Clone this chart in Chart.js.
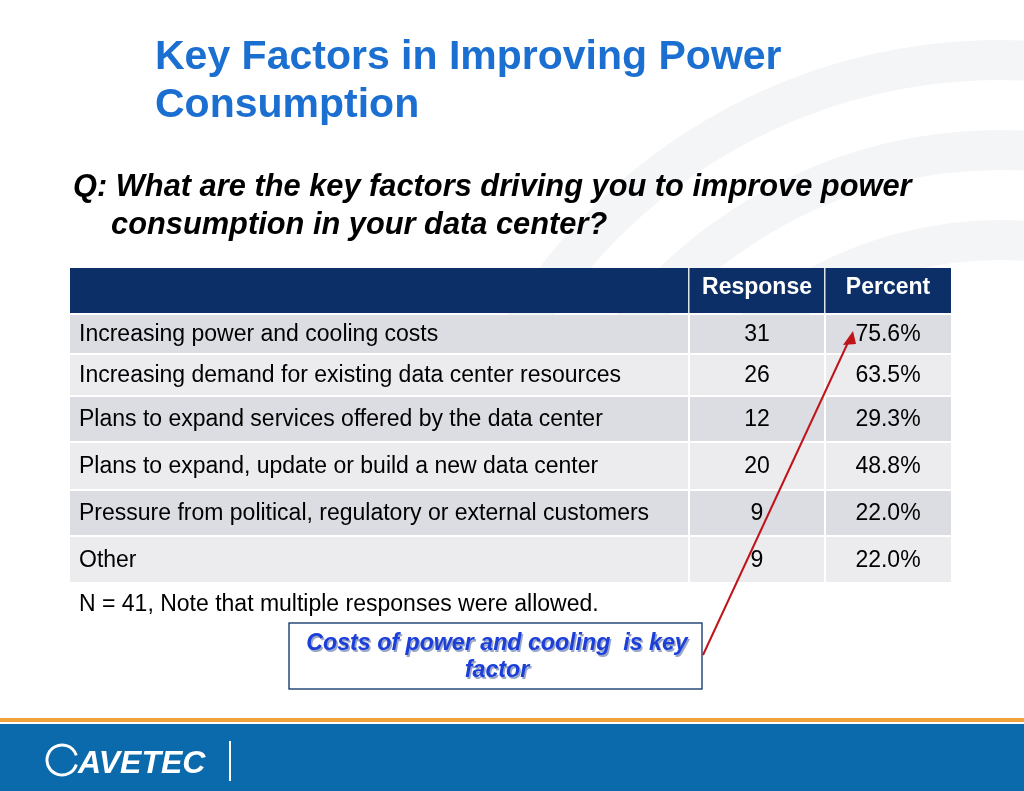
<!DOCTYPE html>
<html><head><meta charset="utf-8">
<script src="https://cdn.jsdelivr.net/npm/chart.js@4/dist/chart.umd.min.js"></script>
<style>html,body{margin:0;padding:0;background:#fff;overflow:hidden}#w{width:1024px;height:791px}</style>
</head><body><div id="w"><canvas id="c" width="1024" height="791"></canvas></div>
<script>
const factors = ["Increasing power and cooling costs","Increasing demand for existing data center resources","Plans to expand services offered by the data center","Plans to expand, update or build a new data center","Pressure from political, regulatory or external customers","Other"];
const responses = [31,26,12,20,9,9];
const percents = [75.6,63.5,29.3,48.8,22.0,22.0];
const headers = ["","Response","Percent"];

const rowTops=[315,355,397,443,491,537], rowBots=[353,395,441,489,535,582];
const colX=[70,689,825,951];
const F='"Liberation Sans", Arial, sans-serif';

const tablePlugin={id:'tbl',afterDraw(ch){
 const c=ch.ctx,xs=ch.scales.x,ys=ch.scales.y;
 const X=v=>xs.getPixelForValue(v),Y=v=>ys.getPixelForValue(v);
 c.save();
 c.strokeStyle='rgba(230,232,238,0.45)';c.lineWidth=40;
 for(const r of [380,470,560]){c.beginPath();c.arc(X(1000),Y(620),r,Math.PI*1.08,Math.PI*1.6);c.stroke();}
 c.fillStyle='#1b6fd1';c.font='bold 41px '+F;c.textBaseline='alphabetic';
 c.fillText('Key Factors in Improving Power',X(155),Y(69));c.fillText('Consumption',X(155),Y(117));
 c.fillStyle='#000';c.font='italic bold 30.8px '+F;
 c.fillText('Q: What are the key factors driving you to improve power',X(73),Y(196));
 c.fillText('consumption in your data center?',X(111),Y(234));
 c.fillStyle='#0c2f67';c.fillRect(X(70),Y(268),X(951)-X(70),Y(313)-Y(268));
 c.fillStyle='#fff';c.font='bold 23px '+F;c.textAlign='center';c.textBaseline='middle';
 for(let j=1;j<3;j++)c.fillText(headers[j],(X(colX[j])+X(colX[j+1]))/2,Y(288));
 c.fillStyle='#dfe3ea';c.fillRect(X(688),Y(268),1.5,Y(313)-Y(268));c.fillRect(X(824),Y(268),1.5,Y(313)-Y(268));
 factors.forEach((f,i)=>{
  c.fillStyle=i%2?'#ececef':'#dcdde2';
  c.fillRect(X(70),Y(rowTops[i]),X(951)-X(70),Y(rowBots[i])-Y(rowTops[i]));
  const my=(Y(rowTops[i])+Y(rowBots[i]))/2+1;
  c.fillStyle='#000';c.font='23px '+F;c.textAlign='left';c.fillText(f,X(79),my);
  c.textAlign='center';c.fillText(String(responses[i]),(X(689)+X(825))/2,my);
  c.fillText(percents[i].toFixed(1)+'%',(X(825)+X(951))/2,my);
 });
 c.fillStyle='#fff';
 for(const x of [688,824])c.fillRect(X(x),Y(313),2,Y(582)-Y(313));
 for(let i=0;i<6;i++)c.fillRect(X(70),Y(rowBots[i]),X(951)-X(70),2);
 c.fillStyle='#000';c.font='23px '+F;c.textAlign='left';c.fillText('N = 41, Note that multiple responses were allowed.',X(79),Y(605));
 c.fillStyle='#fff';c.fillRect(X(289),Y(623),X(702)-X(289),Y(689)-Y(623));
 c.strokeStyle='#0c2f67';c.lineWidth=1.3;c.strokeRect(X(289),Y(623),X(702)-X(289),Y(689)-Y(623));
 c.font='italic bold 23.2px '+F;c.textAlign='center';
 c.fillStyle='#9aa6c8';c.fillText('Costs of power and cooling  is key',X(497)+1.5,Y(644)+1.5);c.fillText('factor',X(497)+1.5,Y(671)+1.5);
 c.fillStyle='#1b3fd8';c.fillText('Costs of power and cooling  is key',X(497),Y(644));c.fillText('factor',X(497),Y(671));
 c.strokeStyle='#c0141b';c.lineWidth=2;c.beginPath();c.moveTo(X(703),Y(655));c.lineTo(X(851),Y(336));c.stroke();
 c.fillStyle='#c0141b';c.beginPath();c.moveTo(X(853),Y(331));c.lineTo(X(843),Y(345));c.lineTo(X(856),Y(344));c.closePath();c.fill();
 c.fillStyle='#f0a23c';c.fillRect(X(0),Y(718),1024,4);
 c.fillStyle='#0a6aab';c.fillRect(X(0),Y(724),1024,Y(791)-Y(724));
 c.fillStyle='#fff';c.font='italic bold 32px '+F;c.textAlign='left';c.fillText('AVETEC',X(78),Y(764));
 c.strokeStyle='#fff';c.lineWidth=3;c.beginPath();c.arc(X(62),Y(760),15,0.3,Math.PI*1.9);c.stroke();
 c.fillRect(X(229),Y(741),2,40);
 c.restore();
}};
new Chart(document.getElementById('c'),{type:'scatter',data:{datasets:[{data:[]}]},
 options:{responsive:false,animation:false,layout:{padding:0},plugins:{legend:{display:false},tooltip:{enabled:false}},
 scales:{x:{type:'linear',min:0,max:1024,display:false},y:{type:'linear',min:0,max:791,reverse:true,display:false}}},
 plugins:[tablePlugin]});
</script></body></html>
